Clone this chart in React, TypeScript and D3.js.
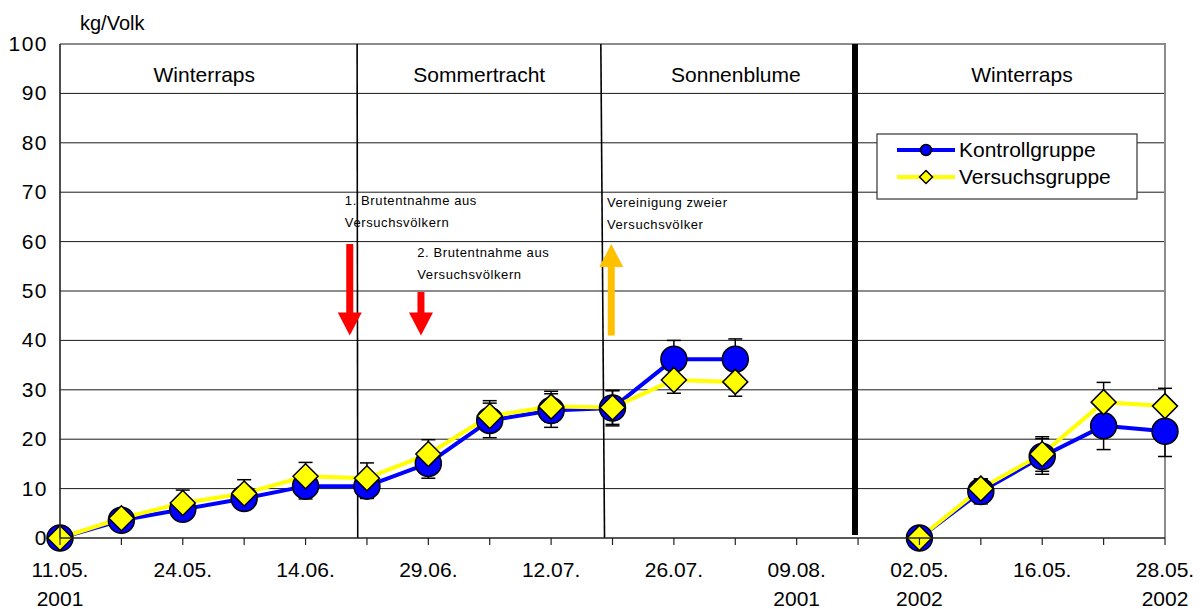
import * as React from 'react';
import * as d3 from 'd3';

// category axis: one tick per sampling date, every second one labelled
const tickLabels = ['11.05.', '', '24.05.', '', '14.06.', '', '29.06.', '', '12.07.', '', '26.07.', '', '09.08.', '', '02.05.', '', '16.05.', '', '28.05.'];
const tickYears = ['2001', '', '', '', '', '', '', '', '', '', '', '', '2001', '', '2002', '', '', '', '2002'];
const yTicks = [0, 10, 20, 30, 40, 50, 60, 70, 80, 90, 100];

const kontroll = [0, 3.6, 5.8, 8, 10.5, 10.5, 15.1, 23.8, 25.8, 26.3, 36.2, 36.2, null, null, 0, 9.4, 16.5, 22.7, 21.6];
const kontrollErr = [0, 0.5, 0.8, 1.5, 2.6, 2.5, 3, 3.5, 3.4, 3.6, 3.8, 4.1, null, null, 0, 2.5, 3.6, 4.8, 5.1];
const versuchs = [0, 4, 7.1, 9, 12.5, 12.1, 17, 24.7, 26.6, 26.4, 32, 31.6, null, null, 0, 10, 17, 27.5, 26.7];
const versuchsErr = [0, 0.5, 2.6, 2.8, 2.8, 3.1, 2.9, 3.1, 3.1, 3.4, 2.7, 2.9, null, null, 0, 2, 3.5, 4, 3.6];

// Trachtperioden (positions in category units)
const periods = [
  { label: 'Winterraps', at: 2.35 },
  { label: 'Sommertracht', at: 6.83 },
  { label: 'Sonnenblume', at: 11.01 },
  { label: 'Winterraps', at: 15.67 },
];
const separators = [
  { top: 4.84, bottom: 4.85, end: 0, thick: false },
  { top: 8.81, bottom: 8.87, end: 0, thick: false },
  { top: 12.95, bottom: 12.95, end: 0.6, thick: true },
];
const arrows = [
  { at: 4.72, from: 59.5, to: 41, color: '#ff0000' },
  { at: 5.88, from: 49.8, to: 41, color: '#ff0000' },
  { at: 8.98, from: 41, to: 59.5, color: '#ffc000' },
];
const notes = [
  { at: 4.64, value: 67.4, lines: ['1. Brutentnahme aus', 'Versuchsvölkern'] },
  { at: 5.82, value: 56.9, lines: ['2. Brutentnahme aus', 'Versuchsvölkern'] },
  { at: 8.91, value: 67.1, lines: ['Vereinigung zweier', 'Versuchsvölker'] },
];

const FONT = '"Liberation Sans", Arial, sans-serif';

const diamondPath = (r: number) => `M0,${-r}L${r},0L0,${r}L${-r},0Z`;

export default function App() {
  const ref = React.useRef<SVGSVGElement | null>(null);

  React.useEffect(() => {
    if (!ref.current) return;
    const svg = d3.select(ref.current);
    svg.selectAll('*').remove();

    const left = 60, right = 1165, top = 44, bottom = 538;
    const x = d3.scaleLinear().domain([0, tickLabels.length - 1]).range([left, right]);
    const y = d3.scaleLinear().domain([0, 100]).range([bottom, top]);

    // grid
    svg.append('g').selectAll('line')
      .data(yTicks.filter(t => t > 0 && t < 100))
      .join('line')
      .attr('x1', left).attr('x2', right)
      .attr('y1', d => y(d)).attr('y2', d => y(d))
      .attr('stroke', '#1a1a1a').attr('stroke-width', 1);

    // plot border (top, right)
    svg.append('path')
      .attr('d', `M${left},${y(100)}H${right}V${bottom}`)
      .attr('fill', 'none').attr('stroke', '#8c8c8c').attr('stroke-width', 2);

    // y axis labels
    svg.append('g').selectAll('text')
      .data(yTicks)
      .join('text')
      .attr('x', 48).attr('y', d => y(d) + 7)
      .attr('text-anchor', 'end')
      .attr('font-family', FONT).attr('font-size', 21).attr('letter-spacing', 1.5)
      .text(d => d);
    svg.append('text')
      .attr('x', 80).attr('y', 30)
      .attr('font-family', FONT).attr('font-size', 20)
      .text('kg/Volk');

    // period labels
    svg.append('g').selectAll('text')
      .data(periods)
      .join('text')
      .attr('x', d => x(d.at)).attr('y', y(92.3))
      .attr('text-anchor', 'middle')
      .attr('font-family', FONT).attr('font-size', 21)
      .text(d => d.label);

    // separators
    svg.append('g').selectAll('line')
      .data(separators)
      .join('line')
      .attr('x1', d => x(d.top)).attr('x2', d => x(d.bottom))
      .attr('y1', y(100)).attr('y2', d => y(d.end))
      .attr('stroke', '#000').attr('stroke-width', d => d.thick ? 6 : 1.6);

    // series lines
    const mkLine = (vals: (number | null)[], color: string) => {
      const line = d3.line<number | null>()
        .defined(d => d !== null)
        .x((_, i) => x(i))
        .y(d => y(d as number));
      svg.append('path')
        .attr('fill', 'none').attr('stroke', color).attr('stroke-width', 4)
        .attr('stroke-linejoin', 'round')
        .attr('d', line(vals) || '');
    };
    mkLine(kontroll, '#0000ff');
    mkLine(versuchs, '#ffff00');

    // error bars
    const errBars = (vals: (number | null)[], errs: (number | null)[]) => {
      const g = svg.append('g').attr('stroke', '#000').attr('stroke-width', 1.5);
      vals.forEach((v, i) => {
        const e = errs[i];
        if (v === null || e === null || e === 0) return;
        const cx = x(i);
        g.append('line').attr('x1', cx).attr('x2', cx).attr('y1', y(v + e)).attr('y2', y(v - e));
        [v + e, v - e].forEach(c => {
          g.append('line').attr('x1', cx - 7).attr('x2', cx + 7).attr('y1', y(c)).attr('y2', y(c));
        });
      });
    };
    errBars(kontroll, kontrollErr);
    errBars(versuchs, versuchsErr);

    // markers
    svg.append('g').selectAll('circle')
      .data(kontroll.map((v, i) => ({ v, i })).filter(d => d.v !== null))
      .join('circle')
      .attr('cx', d => x(d.i)).attr('cy', d => y(d.v as number)).attr('r', 13)
      .attr('fill', '#0000ff').attr('stroke', '#000').attr('stroke-width', 1.5);

    svg.append('g').selectAll('path')
      .data(versuchs.map((v, i) => ({ v, i })).filter(d => d.v !== null))
      .join('path')
      .attr('transform', d => `translate(${x(d.i)},${y(d.v as number)})`)
      .attr('d', diamondPath(12.5))
      .attr('fill', '#ffff00').attr('stroke', '#000').attr('stroke-width', 1.5);

    // x axis
    svg.append('line')
      .attr('x1', left).attr('x2', right).attr('y1', bottom).attr('y2', bottom)
      .attr('stroke', '#222').attr('stroke-width', 1.6);
    svg.append('line')
      .attr('x1', left).attr('x2', left).attr('y1', y(100)).attr('y2', bottom)
      .attr('stroke', '#222').attr('stroke-width', 1.6);
    const ticks = svg.append('g').selectAll('g')
      .data(tickLabels.map((t, i) => ({ t, i, yr: tickYears[i] })))
      .join('g')
      .attr('transform', d => `translate(${x(d.i)},${bottom})`);
    ticks.append('line').attr('y1', 0).attr('y2', 7).attr('stroke', '#222').attr('stroke-width', 1.2);
    ticks.append('text')
      .attr('y', 39).attr('text-anchor', 'middle')
      .attr('font-family', FONT).attr('font-size', 21)
      .text(d => d.t);
    ticks.append('text')
      .attr('y', 68).attr('text-anchor', 'middle')
      .attr('font-family', FONT).attr('font-size', 21)
      .text(d => d.yr);

    // arrows
    svg.append('g').selectAll('path')
      .data(arrows)
      .join('path')
      .attr('fill', d => d.color)
      .attr('d', d => {
        const cx = x(d.at);
        const y0 = y(d.from), y1 = y(d.to);
        const dir = y1 > y0 ? 1 : -1;
        const hb = y1 - dir * 23;
        return `M${cx - 3.5},${y0}H${cx + 3.5}V${hb}H${cx + 12}L${cx},${y1}L${cx - 12},${hb}H${cx - 3.5}Z`;
      });

    // notes
    const ng = svg.append('g').selectAll('text')
      .data(notes)
      .join('text')
      .attr('font-family', FONT).attr('font-size', 13).attr('letter-spacing', 0.6)
      .attr('x', d => x(d.at)).attr('y', d => y(d.value));
    ng.selectAll('tspan')
      .data(d => d.lines.map((l, k) => ({ l, k, x: x(d.at) })))
      .join('tspan')
      .attr('x', d => d.x)
      .attr('dy', d => d.k === 0 ? 0 : 22)
      .text(d => d.l);

    // legend
    const lg = svg.append('g');
    lg.append('rect')
      .attr('x', 877).attr('y', 134).attr('width', 260).attr('height', 65)
      .attr('fill', '#fff').attr('stroke', '#333').attr('stroke-width', 1.2);
    const items = [
      { name: 'Kontrollgruppe', color: '#0000ff', circle: true },
      { name: 'Versuchsgruppe', color: '#ffff00', circle: false },
    ];
    items.forEach((it, k) => {
      const cy = 150 + k * 27;
      lg.append('line').attr('x1', 897).attr('x2', 955).attr('y1', cy).attr('y2', cy)
        .attr('stroke', it.color).attr('stroke-width', 4);
      if (it.circle) {
        lg.append('circle').attr('cx', 926).attr('cy', cy).attr('r', 5.5)
          .attr('fill', it.color).attr('stroke', '#000').attr('stroke-width', 1.5);
      } else {
        lg.append('path')
          .attr('transform', `translate(926,${cy})`)
          .attr('d', diamondPath(6.5))
          .attr('fill', it.color).attr('stroke', '#000').attr('stroke-width', 1.5);
      }
      lg.append('text').attr('x', 959).attr('y', cy + 7)
        .attr('font-family', FONT).attr('font-size', 21)
        .text(it.name);
    });
  }, []);

  return (
    <svg ref={ref} width={1202} height={609} viewBox="0 0 1202 609"
      style={{ position: 'absolute', left: 0, top: 0, background: '#fff' }} />
  );
}
